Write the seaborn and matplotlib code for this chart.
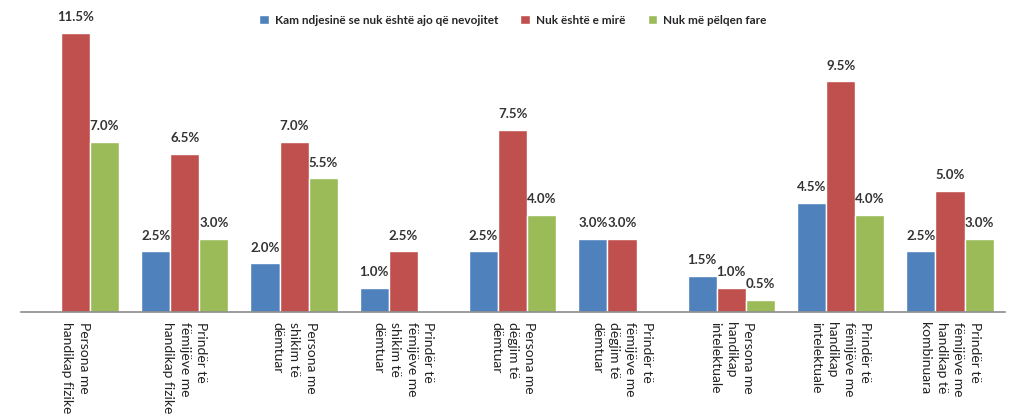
import matplotlib
matplotlib.use("Agg")
import matplotlib.pyplot as plt
import seaborn as sns
import pandas as pd

categories = [
    "Persona me\nhandikap fizike",
    "Prindër të\nfëmijëve me\nhandikap fizike",
    "Persona me\nshikim të\ndëmtuar",
    "Prindër të\nfëmijëve me\nshikim të\ndëmtuar",
    "Persona me\ndëgjim të\ndëmtuar",
    "Prindër të\nfëmijëve me\ndëgjim të\ndëmtuar",
    "Persona me\nhandikap\nintelektuale",
    "Prindër të\nfëmijëve me\nhandikap\nintelektuale",
    "Prindër të\nfëmijëve me\nhandikap të\nkombinuara",
]
series_names = [
    "Kam ndjesinë se nuk është ajo që nevojitet",
    "Nuk është e mirë",
    "Nuk më pëlqen fare",
]
s1 = [0.0, 2.5, 2.0, 1.0, 2.5, 3.0, 1.5, 4.5, 2.5]
s2 = [11.5, 6.5, 7.0, 2.5, 7.5, 3.0, 1.0, 9.5, 5.0]
s3 = [7.0, 3.0, 5.5, 0.0, 4.0, 0.0, 0.5, 4.0, 3.0]
colors = ["#4F81BD", "#C0504D", "#9BBB59"]

rows = []
for name, vals in zip(series_names, [s1, s2, s3]):
    for c, v in zip(categories, vals):
        rows.append({"cat": c, "series": name, "value": v})
df = pd.DataFrame(rows)

sns.set_theme(style="white")
plt.rcParams["font.family"] = ["Lato", "DejaVu Sans"]

fig = plt.figure(figsize=(10.09, 4.17), dpi=100)
ax = fig.add_axes([0.0206, 0.2518, 0.9751, 0.734])

sns.barplot(data=df, x="cat", y="value", hue="series", order=categories,
            hue_order=series_names, palette=colors, width=0.8,
            saturation=1, ax=ax, legend=True, errorbar=None)

for cont in ax.containers:
    labels = [f"{b.get_height():.1f}%" if b.get_height() > 0 else "" for b in cont]
    ax.bar_label(cont, labels=labels, padding=7, fontsize=9.5, fontweight="bold",
                 color="#333333")

ax.set_xlim(-0.5, len(categories) - 0.5)
ax.set_ylim(0, 12.6)
ax.set_xlabel("")
ax.set_ylabel("")
ax.set_yticks([])
for s in ["top", "right", "left"]:
    ax.spines[s].set_visible(False)
ax.spines["bottom"].set_color("#8c8c8c")
ax.spines["bottom"].set_linewidth(1.2)
ax.tick_params(axis="x", length=0, pad=7)
ax.set_xticks(range(len(categories)))
ax.set_xticklabels(categories, rotation=270, ha="center", va="top",
                   multialignment="left", fontsize=10, color="#222222",
                   linespacing=1.45)

ax.legend(loc="upper center", bbox_to_anchor=(0.5, 1.005), ncol=3, frameon=False,
          prop={"weight": "bold", "size": 8.5}, handlelength=0.8, handleheight=0.8,
          columnspacing=1.9, handletextpad=0.5)

fig.savefig("out.png", dpi=100)
